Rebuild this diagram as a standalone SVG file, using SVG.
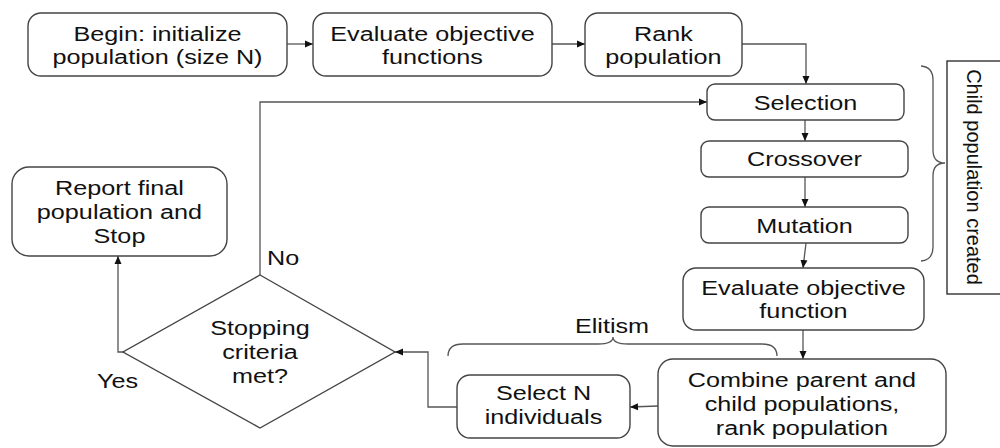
<svg xmlns="http://www.w3.org/2000/svg" width="1000" height="448" viewBox="0 0 1000 448">
<style>
.box{fill:#fff;stroke:#444;stroke-width:1.4}
.t{font-family:"Liberation Sans",Arial,sans-serif;font-size:21px;fill:#111;text-anchor:middle}
.ts{font-family:"Liberation Sans",Arial,sans-serif;font-size:21px;fill:#111;text-anchor:start}
.c{fill:none;stroke:#555;stroke-width:1.3}
.br{fill:none;stroke:#555;stroke-width:1.3}
</style>
<defs>
<marker id="ah" markerUnits="userSpaceOnUse" markerWidth="9" markerHeight="8" refX="8" refY="4" orient="auto">
<path d="M0,0.5 L8,4 L0,7.5 Z" fill="#111"/>
</marker>
</defs>
<rect width="1000" height="448" fill="#fff"/>

<g id="connectors">
<path class="c" d="M287,44 H313" marker-end="url(#ah)"/>
<path class="c" d="M552,44 H585" marker-end="url(#ah)"/>
<path class="c" d="M742,44 H806 V84" marker-end="url(#ah)"/>
<path class="c" d="M805,120 V141" marker-end="url(#ah)"/>
<path class="c" d="M805,177 V207" marker-end="url(#ah)"/>
<path class="c" d="M806,243 L803,268" marker-end="url(#ah)"/>
<path class="c" d="M803,330 V359" marker-end="url(#ah)"/>
<path class="c" d="M658,406 L630,407" marker-end="url(#ah)"/>
<path class="c" d="M457,407 H428 V352 H395" marker-end="url(#ah)"/>
<path class="c" d="M260,275 V102 H707" marker-end="url(#ah)"/>
<path class="c" d="M123,352 H118 V256" marker-end="url(#ah)"/>
</g>

<g id="begin">
<rect class="box" x="28" y="13" width="259" height="63" rx="13"/>
<text class="t" transform="matrix(1.2 0 0 1 -31.5 0)"><tspan x="157.5" y="41">Begin: initialize</tspan><tspan x="157.5" y="64">population (size N)</tspan></text>
</g>
<g id="evaluate-functions">
<rect class="box" x="313" y="13" width="239" height="63" rx="13"/>
<text class="t" transform="matrix(1.2 0 0 1 -86.5 0)"><tspan x="432.5" y="41">Evaluate objective</tspan><tspan x="432.5" y="64">functions</tspan></text>
</g>
<g id="rank">
<rect class="box" x="585" y="13" width="157" height="63" rx="13"/>
<text class="t" transform="matrix(1.2 0 0 1 -132.7 0)"><tspan x="663.5" y="41">Rank</tspan><tspan x="663.5" y="64">population</tspan></text>
</g>
<g id="selection">
<rect class="box" x="707" y="84" width="197" height="36" rx="8"/>
<text class="t" transform="matrix(1.2 0 0 1 -161.1 0)" x="805.5" y="110">Selection</text>
</g>
<g id="crossover">
<rect class="box" x="701" y="141" width="207" height="36" rx="8"/>
<text class="t" transform="matrix(1.2 0 0 1 -160.9 0)" x="804.5" y="166">Crossover</text>
</g>
<g id="mutation">
<rect class="box" x="701" y="207" width="207" height="36" rx="8"/>
<text class="t" transform="matrix(1.2 0 0 1 -160.9 0)" x="804.5" y="233">Mutation</text>
</g>
<g id="evaluate-function">
<rect class="box" x="683" y="268" width="241" height="62" rx="13"/>
<text class="t" transform="matrix(1.2 0 0 1 -160.7 0)"><tspan x="803.5" y="295">Evaluate objective</tspan><tspan x="803.5" y="318">function</tspan></text>
</g>
<g id="combine">
<rect class="box" x="658" y="359" width="288" height="87" rx="15"/>
<text class="t" transform="matrix(1.2 0 0 1 -160.4 0)"><tspan x="802" y="387">Combine parent and</tspan><tspan x="802" y="411">child populations,</tspan><tspan x="802" y="435">rank population</tspan></text>
</g>
<g id="select-n">
<rect class="box" x="457" y="375" width="173" height="63" rx="13"/>
<text class="t" transform="matrix(1.2 0 0 1 -108.7 0)"><tspan x="543.5" y="400">Select N</tspan><tspan x="543.5" y="424">individuals</tspan></text>
</g>
<g id="report">
<rect class="box" x="12" y="167" width="215" height="89" rx="17"/>
<text class="t" transform="matrix(1.2 0 0 1 -23.9 0)"><tspan x="119.5" y="195">Report final</tspan><tspan x="119.5" y="219">population and</tspan><tspan x="119.5" y="243">Stop</tspan></text>
</g>
<g id="decision">
<polygon class="box" points="260,275 395,352 260,428 123,352"/>
<text class="t" transform="matrix(1.2 0 0 1 -52 0)"><tspan x="260" y="335">Stopping</tspan><tspan x="260" y="359">criteria</tspan><tspan x="260" y="383">met?</tspan></text>
</g>
<g id="label-no">
<text class="ts" transform="matrix(1.2 0 0 1 -53.4 0)" x="267" y="265">No</text>
</g>
<g id="label-yes">
<text class="ts" transform="matrix(1.2 0 0 1 -19.4 0)" x="97" y="388">Yes</text>
</g>
<g id="elitism">
<path class="br" d="M448,356 Q448,344 463,344 H598 Q613,344 613,337 Q613,344 628,344 H762 Q777,344 777,356"/>
<text class="t" transform="matrix(1.2 0 0 1 -122.4 0)" x="612" y="333">Elitism</text>
</g>
<g id="child-population">
<path class="br" d="M921,66 Q933,67 933,80 V150 Q933,163 945,163 Q933,163 933,176 V247 Q933,260 921,261"/>
<rect x="947" y="61" width="70" height="233" fill="none" stroke="#222" stroke-width="1.3"/>
<text class="t" font-size="20" style="font-size:20px" transform="translate(967,177) rotate(90)" x="0" y="0">Child population created</text>
</g>
</svg>
